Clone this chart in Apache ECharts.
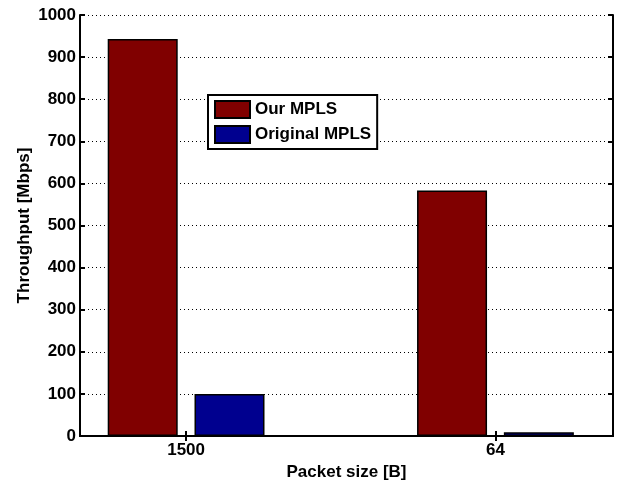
<!DOCTYPE html>
<html>
<head>
<meta charset="utf-8">
<script src="https://cdn.jsdelivr.net/npm/echarts@6/dist/echarts.min.js"></script>
<style>
  html, body { margin: 0; padding: 0; background: #fff; }
  #chart { width: 618px; height: 480px; }
</style>
</head>
<body>
<div id="chart"></div>
<script>
// packet sizes on the x axis, placed at positions 1 and 2
const categories = ["1500", "64"];
const positions = [1, 2];
const ourMpls = [943, 583];
const originalMpls = [100, 9];

const font = "Liberation Sans, Arial, sans-serif";
const labelStyle = { color: "#000", fontWeight: "bold", fontSize: 17, fontFamily: font };

const myChart = echarts.init(document.getElementById("chart"));

const xBase = {
  type: "value",
  min: 0.657,
  max: 2.38,
  axisLine: { lineStyle: { color: "#000", width: 2 } },
  axisTick: { inside: true, length: 5, customValues: positions, lineStyle: { color: "#000", width: 2 } },
  splitLine: { show: false },
};
const yBase = {
  type: "value",
  min: 0,
  max: 1000,
  interval: 100,
  axisLine: { show: true, lineStyle: { color: "#000", width: 2 } },
  axisTick: { show: true, inside: true, length: 5, lineStyle: { color: "#000", width: 2 } },
};

const option = {
  animation: false,
  backgroundColor: "#fff",
  grid: { left: 80, right: 5, top: 15, bottom: 44, outerBoundsMode: "none", containLabel: false },
  legend: {
    orient: "vertical",
    left: 208,
    top: 95,
    backgroundColor: "#fff",
    borderColor: "#000",
    borderWidth: 2,
    padding: [5, 6, 5, 6],
    itemWidth: 35,
    itemHeight: 17,
    itemGap: 6,
    icon: "rect",
    textStyle: labelStyle,
    data: ["Our MPLS", "Original MPLS"],
  },
  xAxis: [
    Object.assign({}, xBase, {
      position: "bottom",
      name: "Packet size [B]",
      nameLocation: "middle",
      nameGap: 27,
      nameTextStyle: labelStyle,
      axisLabel: Object.assign({}, labelStyle, {
        customValues: positions,
        margin: 6,
        formatter: (v) => categories[positions.indexOf(v)] || "",
      }),
    }),
    Object.assign({}, xBase, { position: "top", axisLabel: { show: false } }),
  ],
  yAxis: [
    Object.assign({}, yBase, {
      position: "left",
      name: "Throughput [Mbps]",
      nameLocation: "middle",
      nameGap: 47,
      nameMoveOverlap: false,
      nameTextStyle: labelStyle,
      axisLabel: Object.assign({}, labelStyle, { margin: 4, formatter: (v) => String(v) }),
      splitLine: { show: true, lineStyle: { color: "#000", width: 1, type: [1, 3] } },
    }),
    Object.assign({}, yBase, {
      position: "right",
      axisLabel: { show: false },
      splitLine: { show: false },
    }),
  ],
  series: [
    {
      name: "Our MPLS",
      type: "bar",
      barWidth: 70,
      barGap: "24%",
      itemStyle: { color: "#800000", borderColor: "#000", borderWidth: 1.5 },
      data: positions.map((p, i) => [p, ourMpls[i]]),
    },
    {
      name: "Original MPLS",
      type: "bar",
      barWidth: 70,
      barGap: "24%",
      itemStyle: { color: "#00008f", borderColor: "#000", borderWidth: 1.5 },
      data: positions.map((p, i) => [p, originalMpls[i]]),
    },
  ],
};

myChart.setOption(option);
</script>
</body>
</html>
